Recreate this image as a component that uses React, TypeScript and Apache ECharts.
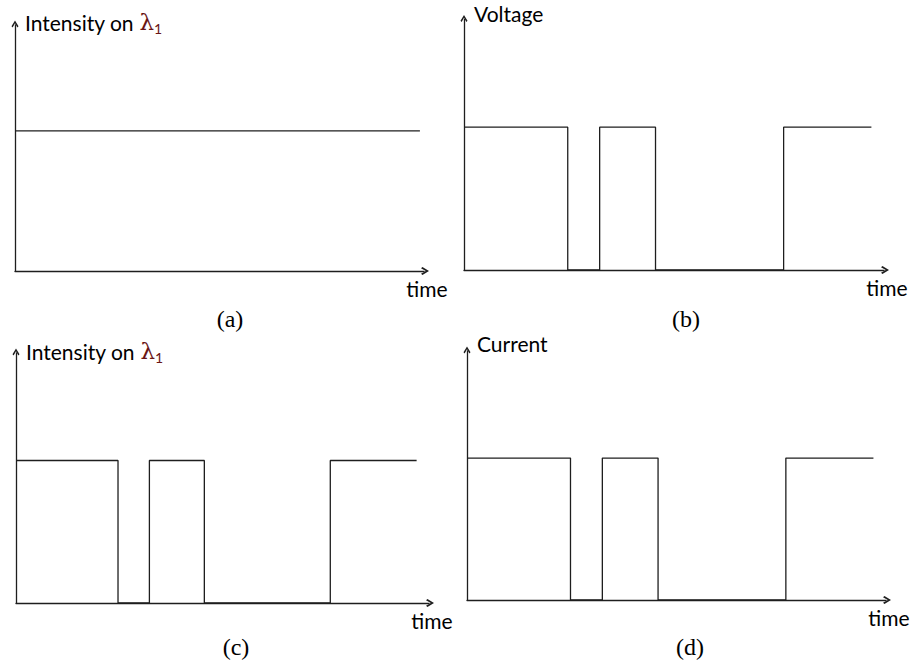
import React, { useEffect, useRef } from "react";
import * as echarts from "echarts";

// ---- data ----
const timeMax = 100;
const levelMax = 10;
const highLevel = 5.7;
const pulseEdges = [24.7, 32.3, 45.6, 76.1]; // fall, rise, fall, rise
const pulseEnd = 97;
const constantEnd = 99;
const panelLetters = ["(a)", "(b)", "(c)", "(d)"];
const yAxisNames = ["Intensity on {l|λ}{s|1}", "Voltage", "Intensity on {l|λ}{s|1}", "Current"];
const xAxisName = "time";
const panelKinds = ["constant", "pulse", "pulse", "pulse"];

// ---- layout / style ----
const grids = [
  { left: 15, top: 25, width: 409, height: 246 },
  { left: 464, top: 19, width: 420, height: 251 },
  { left: 16, top: 353, width: 413, height: 250 },
  { left: 467, top: 351, width: 419, height: 249 },
];
const yNameGaps = [3, 6, 2, 8];
const letterPos = [
  [230, 319],
  [686, 319],
  [236, 647],
  [690, 647],
];
const lineColor = "#1e1e1e";
const arrowPath = "path://M5,0 L10,8.2 L8.4,10 L5,4 L1.6,10 L0,8.2 Z";
const sansFont = "Lato";
const greek = "#6a1515";

function pulseData(): number[][] {
  const d: number[][] = [[0, highLevel]];
  pulseEdges.forEach((t, i) => d.push([t, i % 2 === 0 ? 0 : highLevel]));
  d.push([pulseEnd, highLevel]);
  return d;
}

export default function App() {
  const ref = useRef<HTMLDivElement>(null);
  useEffect(() => {
    if (!ref.current) return;
    const chart = echarts.init(ref.current, undefined, { renderer: "svg" });
    const option: any = {
      animation: false,
      backgroundColor: "#ffffff",
      grid: grids.map((g) => ({ ...g, containLabel: false })),
      xAxis: grids.map((_, i) => ({
        type: "value",
        gridIndex: i,
        min: 0,
        max: timeMax,
        axisLine: {
          show: true,
          symbol: ["none", arrowPath],
          symbolSize: [10, 8],
          symbolOffset: [0, 1],
          lineStyle: { color: lineColor, width: 1.3 },
        },
        axisTick: { show: false },
        axisLabel: { show: false },
        splitLine: { show: false },
        name: xAxisName,
        nameLocation: "end",
        nameGap: 3,
        nameTextStyle: {
          fontFamily: sansFont,
          fontSize: 21,
          color: "#000",
          align: "center",
          verticalAlign: "top",
          padding: [7, 0, 0, 0],
        },
      })),
      yAxis: grids.map((_, i) => ({
        type: "value",
        gridIndex: i,
        min: 0,
        max: levelMax,
        axisLine: {
          show: true,
          symbol: ["none", arrowPath],
          symbolSize: [10, 7],
          symbolOffset: [0, 1],
          lineStyle: { color: lineColor, width: 1.3 },
        },
        axisTick: { show: false },
        axisLabel: { show: false },
        splitLine: { show: false },
        name: yAxisNames[i],
        nameLocation: "end",
        nameGap: yNameGaps[i],
        nameTextStyle: {
          fontFamily: sansFont,
          fontSize: 21,
          color: "#000",
          align: "left",
          verticalAlign: "middle",
          padding: [0, 0, 0, 10],
          lineHeight: 27,
          rich: {
            l: { fontFamily: "DejaVu Serif", fontSize: 23, color: greek, lineHeight: 27 },
            s: { fontFamily: sansFont, fontSize: 14, color: greek, verticalAlign: "bottom", lineHeight: 27 },
          },
        },
      })),
      series: grids.map((_, i) => ({
        type: "line",
        xAxisIndex: i,
        yAxisIndex: i,
        step: panelKinds[i] === "pulse" ? "end" : false,
        showSymbol: false,
        symbol: "none",
        lineStyle: { color: lineColor, width: 1.3 },
        data: panelKinds[i] === "pulse" ? pulseData() : [[0, highLevel], [constantEnd, highLevel]],
      })),
      graphic: panelLetters.map((t, i) => ({
        type: "text",
        x: letterPos[i][0],
        y: letterPos[i][1],
        style: {
          text: t,
          fontFamily: "Liberation Serif",
          fontSize: 24,
          fill: "#000",
          textAlign: "center",
          textVerticalAlign: "middle",
        },
      })),
    };
    chart.setOption(option);
    return () => chart.dispose();
  }, []);
  return (
    <div
      ref={ref}
      style={{ position: "fixed", left: 0, top: 0, width: 912, height: 662 }}
    />
  );
}
